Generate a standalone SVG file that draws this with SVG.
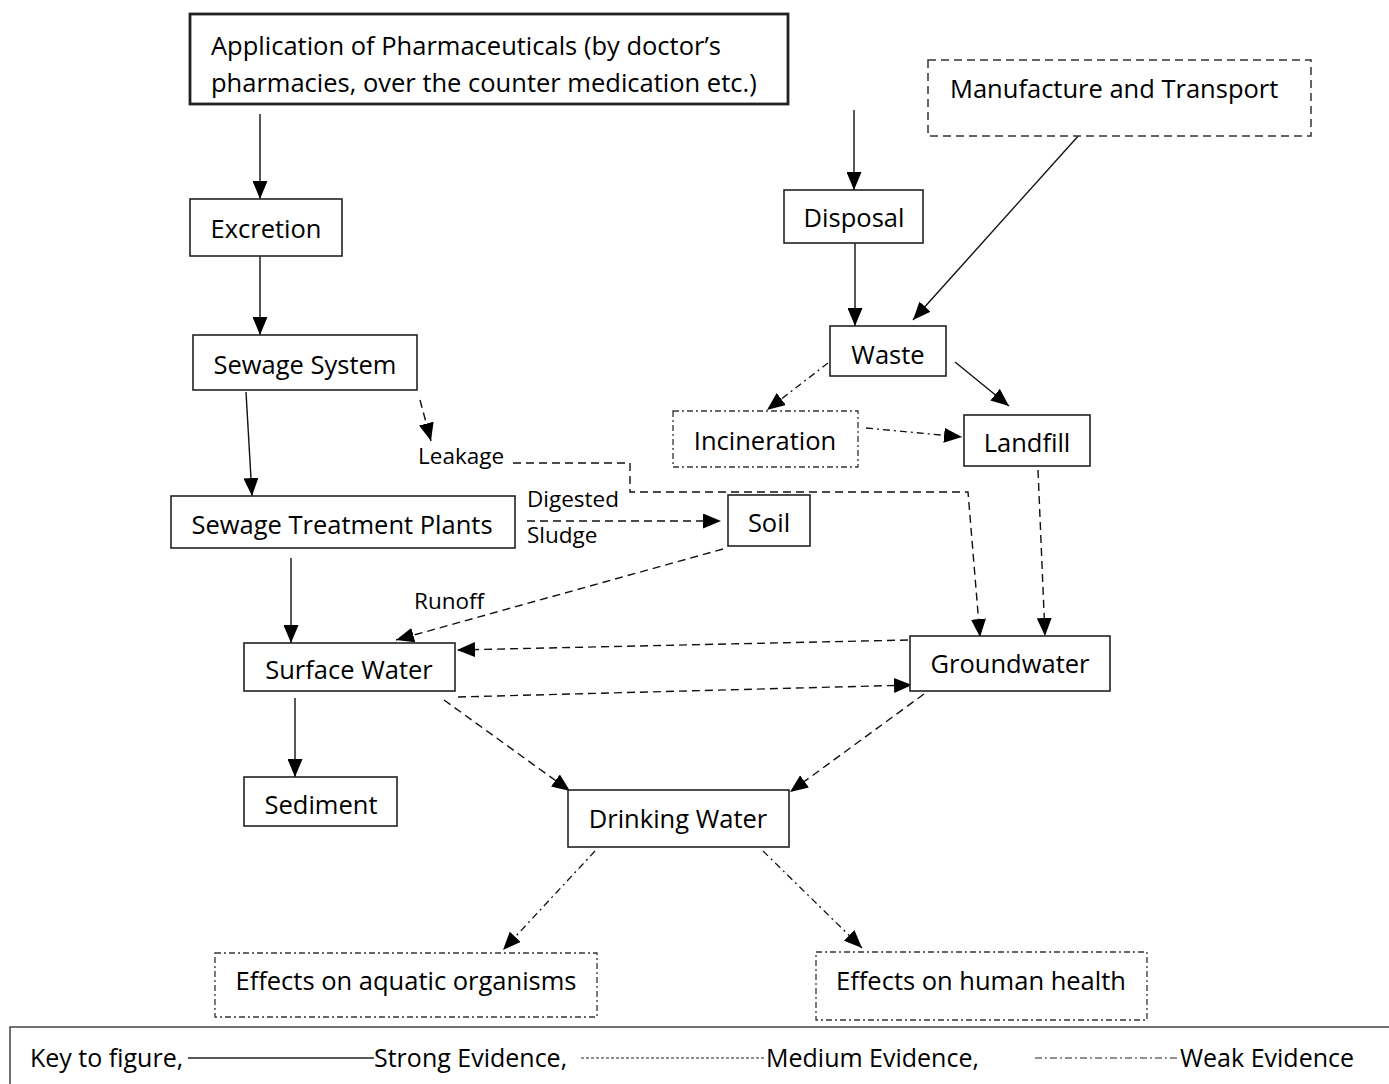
<svg xmlns="http://www.w3.org/2000/svg" width="1389" height="1084" viewBox="0 0 1389 1084">
<defs>
<marker id="ah" viewBox="0 0 18 15" refX="18" refY="7.5" markerWidth="18" markerHeight="15" markerUnits="userSpaceOnUse" orient="auto">
<path d="M0,0 L18,7.5 L0,15 Z" fill="#000"/>
</marker>
<style>
.box{fill:#fff;stroke:#222;stroke-width:1.6}
.thick{stroke-width:2.8}
.dbox{fill:#fff;stroke:#333;stroke-width:1.5;stroke-dasharray:8,5}
.wbox{fill:#fff;stroke:#333;stroke-width:1.3;stroke-dasharray:6,3,2,3}
.t{font-family:"Open Sans","Noto Sans",sans-serif;font-size:25.5px;fill:#000}
.c{text-anchor:middle}
.s{font-size:22.5px}
.k{font-size:25px}
.strong{fill:none;stroke:#111;stroke-width:1.4;marker-end:url(#ah)}
.med{fill:none;stroke:#111;stroke-width:1.4;stroke-dasharray:8,5;marker-end:url(#ah)}
.weak{fill:none;stroke:#111;stroke-width:1.3;stroke-dasharray:7,4,2,4;marker-end:url(#ah)}
</style>
</defs>
<g id="connectors">
<path class="strong" d="M260,114 L260,199"/>
<path class="strong" d="M260,256 L260,335"/>
<path class="strong" d="M246,392 L252,496"/>
<path class="med" d="M420,400 L431,441"/>
<path class="med" d="M513,463 L630,463 L630,492 L968,492 L980,637"/>
<path class="med" d="M527,521 L721,521"/>
<path class="strong" d="M291,558 L291,643"/>
<path class="med" d="M723,549 L396,640"/>
<path class="strong" d="M854,110 L854,190"/>
<path class="strong" d="M855,243 L855,326"/>
<path class="strong" d="M1080,134 L913,320"/>
<path class="weak" d="M828,363 L767,410"/>
<path class="strong" d="M955,362 L1009,406"/>
<path class="weak" d="M866,428 L962,437"/>
<path class="med" d="M1038,470 L1045,636"/>
<path class="med" d="M908,640 L457,650"/>
<path class="med" d="M458,697 L912,685"/>
<path class="strong" d="M295,698 L295,777"/>
<path class="med" d="M444,700 L570,791"/>
<path class="med" d="M924,694 L790,792"/>
<path class="weak" d="M595,851 L503,950"/>
<path class="weak" d="M763,851 L862,948"/>
</g>
<g id="application">
<rect class="box thick" x="190" y="14" width="598" height="90"/>
<text class="t" x="211" y="55">Application of Pharmaceuticals (by doctor’s</text>
<text class="t" x="211" y="92">pharmacies, over the counter medication etc.)</text>
</g>
<g id="manufacture">
<rect class="dbox" x="928" y="60" width="383" height="76"/>
<text class="t" x="950" y="98">Manufacture and Transport</text>
</g>
<g id="excretion">
<rect class="box" x="190" y="199" width="152" height="57"/>
<text class="t c" x="266" y="238">Excretion</text>
</g>
<g id="disposal">
<rect class="box" x="784" y="190" width="139" height="53"/>
<text class="t c" x="854" y="227">Disposal</text>
</g>
<g id="sewage-system">
<rect class="box" x="193" y="335" width="224" height="55"/>
<text class="t c" x="305" y="374">Sewage System</text>
</g>
<g id="waste">
<rect class="box" x="830" y="326" width="116" height="50"/>
<text class="t c" x="888" y="364">Waste</text>
</g>
<g id="incineration">
<rect class="wbox" x="673" y="411" width="185" height="56"/>
<text class="t c" x="765" y="450">Incineration</text>
</g>
<g id="landfill">
<rect class="box" x="964" y="415" width="126" height="51"/>
<text class="t c" x="1027" y="452">Landfill</text>
</g>
<g id="leakage">
<text class="t s" x="418" y="464">Leakage</text>
</g>
<g id="stp">
<rect class="box" x="171" y="496" width="344" height="52"/>
<text class="t c" x="342" y="534">Sewage Treatment Plants</text>
</g>
<g id="sludge-label">
<text class="t s" x="527" y="507">Digested</text>
<text class="t s" x="527" y="543">Sludge</text>
</g>
<g id="soil">
<rect class="box" x="728" y="495" width="82" height="51"/>
<text class="t c" x="769" y="532">Soil</text>
</g>
<g id="runoff">
<text class="t s" x="414" y="609">Runoff</text>
</g>
<g id="surface-water">
<rect class="box" x="244" y="643" width="211" height="48"/>
<text class="t c" x="349" y="679">Surface Water</text>
</g>
<g id="groundwater">
<rect class="box" x="910" y="636" width="200" height="55"/>
<text class="t c" x="1010" y="673">Groundwater</text>
</g>
<g id="sediment">
<rect class="box" x="244" y="777" width="153" height="49"/>
<text class="t c" x="321" y="814">Sediment</text>
</g>
<g id="drinking-water">
<rect class="box" x="568" y="790" width="221" height="57"/>
<text class="t c" x="678" y="828">Drinking Water</text>
</g>
<g id="aquatic">
<rect class="wbox" x="215" y="953" width="382" height="64"/>
<text class="t c" x="406" y="990">Effects on aquatic organisms</text>
</g>
<g id="human">
<rect class="wbox" x="816" y="952" width="331" height="68"/>
<text class="t c" x="981" y="990">Effects on human health</text>
</g>
<g id="legend">
<rect x="10" y="1027" width="1390" height="70" fill="#fff" stroke="#444" stroke-width="1.5"/>
<text class="t k" x="30" y="1067">Key to figure,</text>
<line x1="188" y1="1058" x2="374" y2="1058" stroke="#222" stroke-width="1.3"/>
<text class="t k" x="374" y="1067">Strong Evidence,</text>
<line x1="581" y1="1058" x2="764" y2="1058" stroke="#222" stroke-width="1.2" stroke-dasharray="3,2"/>
<text class="t k" x="766" y="1067">Medium Evidence,</text>
<line x1="1035" y1="1058" x2="1180" y2="1058" stroke="#222" stroke-width="1.2" stroke-dasharray="7,3,2,3"/>
<text class="t k" x="1180" y="1067">Weak Evidence</text>
</g>
</svg>
